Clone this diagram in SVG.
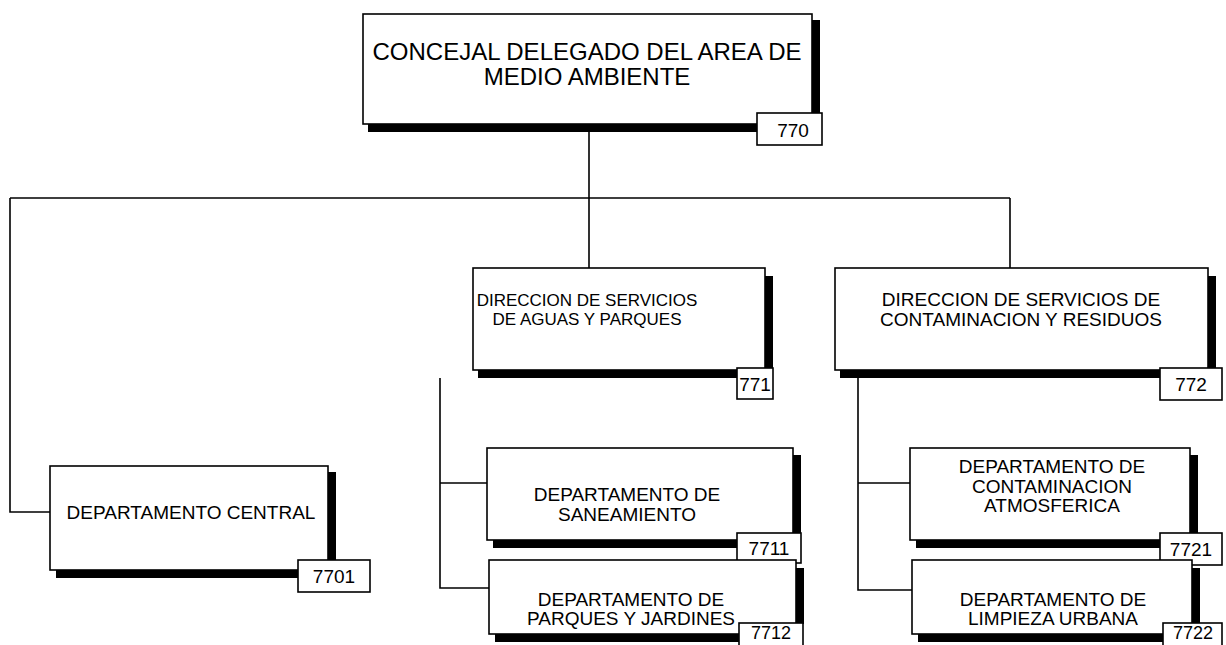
<svg xmlns="http://www.w3.org/2000/svg" width="1226" height="645" viewBox="0 0 1226 645">
<style>
.box{fill:#fff;stroke:#000;stroke-width:1.6}
.lbl{fill:#fff;stroke:#000;stroke-width:1.6}
.sh{fill:#000}
.ln{fill:none;stroke:#000;stroke-width:1.6}
text{font-family:"Liberation Sans",Arial,Helvetica,sans-serif;fill:#000;text-anchor:middle}
.t1{font-size:24px}
.t17{font-size:17px}
.t19{font-size:19px}
.t3{font-size:19px}
.t4{font-size:18px}
</style>
<rect width="1226" height="645" fill="#fff"/>
<g id="connectors">
<path class="ln" d="M589,132 V198 M10,198 H1010 M10,198 V512 H50 M589,198 V268 M1010,198 V268"/>
<path class="ln" d="M440,378 V588 H489 M440,483 H487"/>
<path class="ln" d="M858,378 V590 H912 M858,483 H910"/>
</g>
<g id="n770">
<rect class="sh" x="812" y="20" width="8" height="96"/>
<rect class="sh" x="368" y="124" width="392" height="8"/>
<rect class="box" x="363" y="14" width="449" height="110"/>
<rect class="lbl" x="757" y="113" width="65" height="32"/>
<text class="t1" x="587" y="60">CONCEJAL DELEGADO DEL AREA DE</text>
<text class="t1" x="587" y="85">MEDIO AMBIENTE</text>
<text class="t3" x="793" y="137">770</text>
</g>
<g id="n771">
<rect class="sh" x="765" y="276" width="8" height="94"/>
<rect class="sh" x="478" y="370" width="262" height="8"/>
<rect class="box" x="473" y="268" width="292" height="102"/>
<rect class="lbl" x="737" y="368" width="36" height="31"/>
<text class="t17" x="587" y="306">DIRECCION DE SERVICIOS</text>
<text class="t17" x="587" y="325">DE AGUAS Y PARQUES</text>
<text class="t3" x="755" y="391">771</text>
</g>
<g id="n772">
<rect class="sh" x="1208" y="276" width="8" height="94"/>
<rect class="sh" x="840" y="370" width="322" height="8"/>
<rect class="box" x="835" y="268" width="373" height="102"/>
<rect class="lbl" x="1160" y="368" width="62" height="32"/>
<text class="t19" x="1021" y="306">DIRECCION DE SERVICIOS DE</text>
<text class="t19" x="1021" y="326">CONTAMINACION Y RESIDUOS</text>
<text class="t3" x="1191" y="391">772</text>
</g>
<g id="n7701">
<rect class="sh" x="328" y="472" width="8" height="90"/>
<rect class="sh" x="56" y="570" width="244" height="8"/>
<rect class="box" x="50" y="466" width="278" height="104"/>
<rect class="lbl" x="298" y="560" width="72" height="32"/>
<text class="t19" x="191" y="519">DEPARTAMENTO CENTRAL</text>
<text class="t3" x="334" y="583">7701</text>
</g>
<g id="n7711">
<rect class="sh" x="793" y="455" width="8" height="80"/>
<rect class="sh" x="493" y="540" width="246" height="8"/>
<rect class="box" x="487" y="448" width="306" height="92"/>
<rect class="lbl" x="737" y="533" width="64" height="30"/>
<text class="t19" x="627" y="501">DEPARTAMENTO DE</text>
<text class="t19" x="627" y="521">SANEAMIENTO</text>
<text class="t3" x="769" y="555">7711</text>
</g>
<g id="n7712">
<rect class="sh" x="796" y="568" width="8" height="56"/>
<rect class="sh" x="495" y="634" width="245" height="8"/>
<rect class="box" x="489" y="560" width="307" height="74"/>
<rect class="lbl" x="739" y="623" width="64" height="30"/>
<text class="t19" x="631" y="606">DEPARTAMENTO DE</text>
<text class="t19" x="631" y="625">PARQUES Y JARDINES</text>
<text class="t4" x="771" y="639">7712</text>
</g>
<g id="n7721">
<rect class="sh" x="1190" y="455" width="8" height="80"/>
<rect class="sh" x="916" y="540" width="246" height="8"/>
<rect class="box" x="910" y="448" width="280" height="92"/>
<rect class="lbl" x="1160" y="533" width="62" height="32"/>
<text class="t19" x="1052" y="473">DEPARTAMENTO DE</text>
<text class="t19" x="1052" y="493">CONTAMINACION</text>
<text class="t19" x="1052" y="512">ATMOSFERICA</text>
<text class="t3" x="1191" y="556">7721</text>
</g>
<g id="n7722">
<rect class="sh" x="1192" y="568" width="8" height="56"/>
<rect class="sh" x="918" y="634" width="246" height="8"/>
<rect class="box" x="912" y="560" width="280" height="74"/>
<rect class="lbl" x="1163" y="623" width="59" height="30"/>
<text class="t19" x="1053" y="606">DEPARTAMENTO DE</text>
<text class="t19" x="1053" y="625">LIMPIEZA URBANA</text>
<text class="t4" x="1193" y="639">7722</text>
</g>
</svg>
